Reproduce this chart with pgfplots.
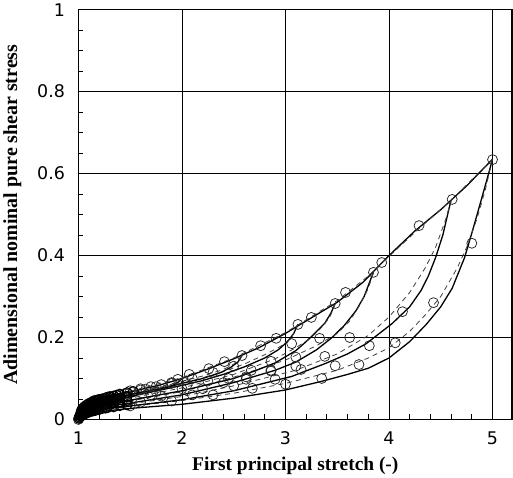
\documentclass[border=0pt]{standalone}
\usepackage{pgfplots}
\pgfplotsset{compat=1.18}
\usepackage{fontspec}
\setmainfont{Liberation Serif}
\newfontfamily\tickfont{DejaVu Sans}
\begin{document}
\begin{tikzpicture}
\begin{axis}[
  scale only axis,
  width=434bp, height=410bp,
  xmin=1, xmax=5.19, ymin=0, ymax=1,
  xtick={1,2,3,4,5}, minor x tick num=4,
  ytick={0,0.2,0.4,0.6,0.8,1}, minor y tick num=3,
  xtick pos=bottom, ytick pos=left,
  tick align=inside,
  major tick length=9bp, minor tick length=5bp,
  tick style={black, line width=0.8pt},
  grid=major, major grid style={black, line width=0.7pt},
  axis line style={black, line width=1.6pt},
  /pgf/number format/assume math mode=true,
  tick label style={font=\tickfont\fontsize{17.5}{19}\selectfont},
  yticklabel style={xshift=-10bp},
  xticklabel style={yshift=-9bp},
  xlabel={\fontsize{19.5}{21}\selectfont\bfseries First principal stretch (-)},
  ylabel={\fontsize{20}{22}\selectfont\bfseries Adimensional nominal pure shear stress},
  xlabel style={yshift=-5bp},
  ylabel style={yshift=9bp},
  clip=true,
]
% ---------- envelope (loading) ----------
\addplot[black, line width=1.3bp] coordinates {
(1,0) (1.01,0.012) (1.03,0.022) (1.06,0.031) (1.1,0.038) (1.15,0.044) (1.2,0.048) (1.3,0.055) (1.4,0.061) (1.5,0.067) (1.6,0.073) (1.8,0.085) (2,0.1) (2.25,0.123) (2.5,0.148) (2.75,0.176) (3,0.21) (3.25,0.248) (3.5,0.286) (3.75,0.335) (4,0.4) (4.25,0.46) (4.5,0.512) (4.75,0.57) (5,0.635)};
\addplot[black!75, line width=0.8bp, dash pattern=on 5bp off 4bp] coordinates {
(1,0) (1.05,0.03) (1.1,0.04) (1.2,0.05) (1.5,0.069) (2,0.102) (2.5,0.15) (3,0.212) (3.5,0.29) (3.8,0.35) (4,0.398) (4.3,0.468) (4.6,0.535) (5,0.635)};
% ---------- unloading from 5.0 ----------
\addplot[black, line width=1.3bp] coordinates {
(5,0.635) (4.94,0.58) (4.87,0.517) (4.8,0.455) (4.73,0.395) (4.61,0.32) (4.5,0.275) (4.36,0.232) (4.2,0.19) (4,0.15) (3.8,0.125) (3.6,0.11) (3.35,0.093) (3,0.072) (2.5,0.052) (2,0.037) (1.5,0.027) (1.2,0.019) (1.1,0.014) (1.04,0.008) (1,0)};
\addplot[black!75, line width=0.8bp, dash pattern=on 5bp off 4bp] coordinates {
(5,0.635) (4.93,0.56) (4.85,0.49) (4.75,0.42) (4.66,0.37) (4.5,0.3) (4.35,0.255) (4.2,0.215) (4,0.175) (3.8,0.15) (3.5,0.12) (3,0.088) (2.5,0.064) (2,0.046) (1.5,0.032) (1.2,0.022) (1,0)};
% ---------- unloading from 4.6 ----------
\addplot[black, line width=1.3bp] coordinates {
(4.6,0.535) (4.58,0.515) (4.52,0.45) (4.45,0.395) (4.38,0.35) (4.31,0.315) (4.2,0.275) (4.03,0.234) (3.78,0.185) (3.6,0.16) (3.39,0.137) (3.06,0.105) (2.5,0.07) (2,0.048) (1.5,0.033) (1.2,0.024) (1.05,0.012) (1,0)};
\addplot[black!75, line width=0.8bp, dash pattern=on 5bp off 4bp] coordinates {
(4.6,0.535) (4.55,0.49) (4.45,0.42) (4.35,0.37) (4.2,0.31) (4,0.25) (3.8,0.205) (3.5,0.16) (3.1,0.12) (2.5,0.082) (2,0.056) (1.5,0.038) (1.2,0.027) (1,0)};
% ---------- unloading from 3.85 ----------
\addplot[black, line width=1.3bp] coordinates {
(3.85,0.359) (3.82,0.34) (3.76,0.3) (3.68,0.265) (3.57,0.23) (3.45,0.2) (3.3,0.17) (3.1,0.14) (2.9,0.12) (2.5,0.09) (2,0.06) (1.5,0.04) (1.2,0.028) (1.05,0.015) (1,0)};
\addplot[black!75, line width=0.8bp, dash pattern=on 5bp off 4bp] coordinates {
(3.85,0.359) (3.8,0.32) (3.72,0.28) (3.62,0.24) (3.5,0.21) (3.3,0.18) (3.0,0.145) (2.5,0.103) (2,0.068) (1.5,0.045) (1.2,0.03) (1,0)};
% ---------- unloading from 3.48 ----------
\addplot[black, line width=1.3bp] coordinates {
(3.48,0.283) (3.44,0.26) (3.38,0.235) (3.29,0.212) (3.2,0.19) (3.1,0.168) (2.9,0.138) (2.7,0.118) (2.5,0.1) (2,0.07) (1.5,0.047) (1.2,0.032) (1.05,0.017) (1,0)};
\addplot[black!75, line width=0.8bp, dash pattern=on 5bp off 4bp] coordinates {
(3.48,0.283) (3.43,0.25) (3.35,0.225) (3.25,0.2) (3.1,0.175) (2.9,0.148) (2.5,0.11) (2,0.077) (1.5,0.052) (1.2,0.035) (1,0)};
% ---------- unloading from 3.12 ----------
\addplot[black, line width=1.3bp] coordinates {
(3.12,0.232) (3.08,0.21) (3.02,0.19) (2.93,0.17) (2.8,0.15) (2.6,0.128) (2.4,0.11) (2.2,0.095) (2,0.083) (1.5,0.056) (1.2,0.038) (1.05,0.02) (1,0)};
\addplot[black!75, line width=0.8bp, dash pattern=on 5bp off 4bp] coordinates {
(3.12,0.232) (3.06,0.2) (2.95,0.178) (2.8,0.158) (2.6,0.135) (2.3,0.108) (2,0.088) (1.5,0.06) (1.2,0.04) (1,0)};
% ---------- unloading from 2.58 ----------
\addplot[black, line width=1.3bp] coordinates {
(2.58,0.156) (2.54,0.14) (2.47,0.127) (2.38,0.115) (2.2,0.1) (2,0.088) (1.8,0.075) (1.5,0.06) (1.2,0.043) (1.05,0.025) (1,0)};
\addplot[black!75, line width=0.8bp, dash pattern=on 5bp off 4bp] coordinates {
(2.58,0.156) (2.5,0.135) (2.4,0.122) (2.2,0.106) (2,0.093) (1.7,0.075) (1.4,0.058) (1.2,0.045) (1,0)};
% ---------- unloading from 2.0 ----------
\addplot[black, line width=1.3bp] coordinates {
(2.0,0.1) (1.96,0.09) (1.9,0.082) (1.8,0.076) (1.6,0.066) (1.4,0.056) (1.2,0.045) (1.05,0.028) (1,0)};
\addplot[black!75, line width=0.8bp, dash pattern=on 5bp off 4bp] coordinates {
(2.0,0.1) (1.93,0.088) (1.8,0.079) (1.6,0.069) (1.4,0.059) (1.2,0.047) (1,0)};
% ---------- experimental points ----------
\addplot[only marks, mark=o, mark size=5bp, black!85, mark options={line width=0.75bp}] coordinates {
(1,0) (1.02,0.015) (1.05,0.028) (1.1,0.038) (1.15,0.045) (1.2,0.049) (1.3,0.056) (1.4,0.062) (1.5,0.07) (1.6,0.075) (1.7,0.08) (1.8,0.085) (1.96,0.098) (2.07,0.11) (2.26,0.124) (2.41,0.141) (2.58,0.156) (2.76,0.18) (2.91,0.198) (3.12,0.232) (3.25,0.249) (3.48,0.283) (3.58,0.31) (3.85,0.359) (3.93,0.383) (4.29,0.473) (4.61,0.537) (5,0.634)};
\addplot[only marks, mark=o, mark size=5bp, black!85, mark options={line width=0.75bp}] coordinates {
(4.8,0.43) (4.43,0.285) (4.06,0.187) (3.71,0.134) (3.35,0.1) (3.0,0.086) (2.68,0.076) (2.3,0.06) (1.9,0.045) (1.5,0.033) (1.2,0.024) (1.05,0.014)
(4.13,0.263) (3.81,0.18) (3.48,0.131) (3.15,0.122) (2.9,0.098) (2.5,0.082) (2.1,0.06) (1.6,0.042) (1.25,0.03) (1.08,0.018)
(3.62,0.2) (3.38,0.154) (3.1,0.13) (2.86,0.118) (2.62,0.098) (2.2,0.075) (1.8,0.057) (1.4,0.043) (1.15,0.03)
(3.33,0.198) (3.1,0.152) (2.86,0.12) (2.62,0.104) (2.4,0.09) (2.0,0.075) (1.7,0.06) (1.35,0.045) (1.12,0.032)
(3.06,0.185) (2.86,0.142) (2.67,0.12) (2.45,0.1) (2.25,0.094) (2.05,0.085) (1.75,0.068) (1.45,0.055) (1.18,0.04)
(2.5,0.13) (2.3,0.115) (2.1,0.1) (1.9,0.088) (1.65,0.074) (1.4,0.06) (1.22,0.047)
(1.9,0.09) (1.75,0.08) (1.6,0.072) (1.45,0.063) (1.3,0.055) (1.15,0.046)};
% dense small-strain points
\addplot[only marks, mark=o, mark size=5bp, black, mark options={line width=1.2bp}] coordinates {
(1.005,0.003) (1.01,0.006) (1.015,0.009) (1.02,0.01)
(1.03,0.022) (1.045,0.027) (1.06,0.031) (1.08,0.035) (1.1,0.038) (1.12,0.041) (1.14,0.043) (1.16,0.045) (1.18,0.047) (1.2,0.048) (1.23,0.05) (1.26,0.052) (1.28,0.054) (1.31,0.055) (1.34,0.057) (1.37,0.059) (1.4,0.061) (1.47,0.065) (1.53,0.068)
(1.03,0.018) (1.045,0.022) (1.06,0.026) (1.08,0.029) (1.1,0.032) (1.12,0.034) (1.14,0.036) (1.16,0.038) (1.18,0.04) (1.2,0.041) (1.23,0.043) (1.26,0.045) (1.28,0.046) (1.31,0.047) (1.34,0.049) (1.37,0.05) (1.4,0.052) (1.47,0.056)
(1.03,0.013) (1.045,0.017) (1.06,0.02) (1.08,0.023) (1.1,0.025) (1.12,0.027) (1.14,0.029) (1.16,0.031) (1.18,0.032) (1.2,0.034) (1.23,0.035) (1.26,0.037) (1.28,0.038) (1.31,0.04) (1.34,0.041) (1.4,0.043) (1.47,0.046)
(1.03,0.009) (1.045,0.012) (1.06,0.014) (1.08,0.016) (1.1,0.018) (1.12,0.02) (1.14,0.021) (1.16,0.022) (1.18,0.024) (1.2,0.025) (1.23,0.027) (1.26,0.028) (1.28,0.029) (1.34,0.031) (1.4,0.034) (1.47,0.036)};
\end{axis}
\end{tikzpicture}
\end{document}
